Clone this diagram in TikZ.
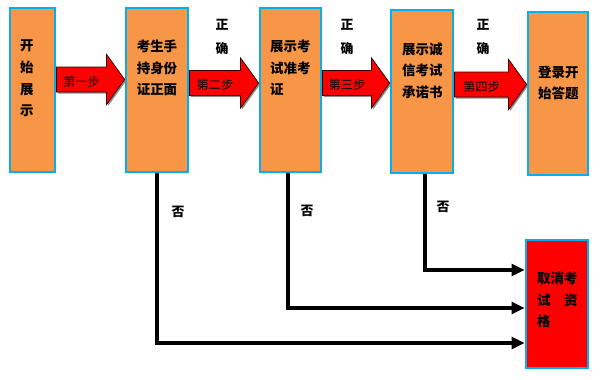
\documentclass[tikz,border=0pt]{standalone}
\usepackage{fontspec}
\setmainfont{Noto Sans CJK SC}
\usepackage{tikz}
\usetikzlibrary{arrows.meta,positioning,calc}
\definecolor{boxfill}{HTML}{F79646}
\definecolor{boxline}{HTML}{00B0F0}
\definecolor{stopred}{HTML}{FF0000}

% block arrow between two boxes at height #3
\newcommand{\steparrow}[4]{%
  \coordinate (s) at (#1.east |- 0,#3);
  \coordinate (t) at (#2.west |- 0,#3);
  \fill[black!45] ($(s)+(1.5,-11)$) -- ($(t)+(-16.5,-11)$) -- ($(t)+(-16.5,-23.5)$)
    -- ($(t)+(1.5,1.5)$) -- ($(t)+(-16.5,26.5)$) -- ($(t)+(-16.5,14)$) -- ($(s)+(1.5,14)$) -- cycle;
  \draw[stepfill] ($(s)+(0,-12.5)$) -- ($(t)+(-18,-12.5)$) -- ($(t)+(-18,-25)$)
    -- (t) -- ($(t)+(-18,25)$) -- ($(t)+(-18,12.5)$) -- ($(s)+(0,12.5)$) -- cycle;
  \node[steplabel] at ($(s)!0.5!(t)+(-9,2)$) {#4};
}

\begin{document}
\begin{tikzpicture}[x=0.03cm, y=-0.03cm,
  box/.style={draw=boxline, line width=2.4pt, fill=boxfill, inner sep=0pt},
  boxtext/.style={font=\fontsize{11.5}{18.5}\selectfont\bfseries, align=left, inner sep=0pt},
  stepfill/.style={draw=black!80!red, line width=0.6pt, fill=stopred},
  steplabel/.style={font=\fontsize{10.5}{12}\selectfont},
  nolink/.style={line width=3.4pt, -{Triangle[length=11pt,width=10pt]}},
  tag/.style={font=\fontsize{11}{20}\selectfont\bfseries, align=center, inner sep=0pt}]
  \useasboundingbox (0,0) rectangle (604,379);

  % Boxes
  \node[box, minimum width=45*0.03cm, minimum height=164*0.03cm] (start) at (32.5,90) {};
  \node[box, minimum width=62*0.03cm, minimum height=164*0.03cm] (idcard) at (157,90) {};
  \node[box, minimum width=61*0.03cm, minimum height=164*0.03cm] (ticket) at (290.5,90) {};
  \node[box, minimum width=62*0.03cm, minimum height=163*0.03cm] (pledge) at (422,91.5) {};
  \node[box, minimum width=60*0.03cm, minimum height=163*0.03cm] (answer) at (558,93.5) {};
  \node[box, fill=stopred, minimum width=62*0.03cm, minimum height=128*0.03cm] (cancel) at (557,304) {};

  % Box texts
  \node[boxtext, anchor=west] at (20,78.5) {开\\始\\展\\示};
  \node[boxtext, align=center] at (157,68) {考生手\\持身份\\证正面};
  \node[boxtext, anchor=west] at (270,68) {展示考\\试准考\\证};
  \node[boxtext, anchor=west] at (402,70.5) {展示诚\\信考试\\承诺书};
  \node[boxtext, anchor=west] at (538,83) {登录开\\始答题};
  \node[boxtext, anchor=west] at (537,300) {取消考\\试\hspace{1em}资\\格};

  % Steps
  \steparrow{start}{idcard}{79.5}{第一步}
  \steparrow{idcard}{ticket}{83}{第二步}
  \steparrow{ticket}{pledge}{83}{第三步}
  \steparrow{pledge}{answer}{84.5}{第四步}

  % Correct
  \node[tag] at (222,37) {正\\确};
  \node[tag] at (347,37) {正\\确};
  \node[tag] at (483,37) {正\\确};

  % Failures
  \draw[nolink] (idcard.south) |- (cancel.west |- 0,343);
  \draw[nolink] (ticket.south -| 288,0) |- (cancel.west |- 0,308);
  \draw[nolink] (pledge.south -| 425,0) |- (cancel.west |- 0,270);
  \node[tag] at (178,212) {否};
  \node[tag] at (307,211) {否};
  \node[tag] at (443,207) {否};
\end{tikzpicture}
\end{document}
